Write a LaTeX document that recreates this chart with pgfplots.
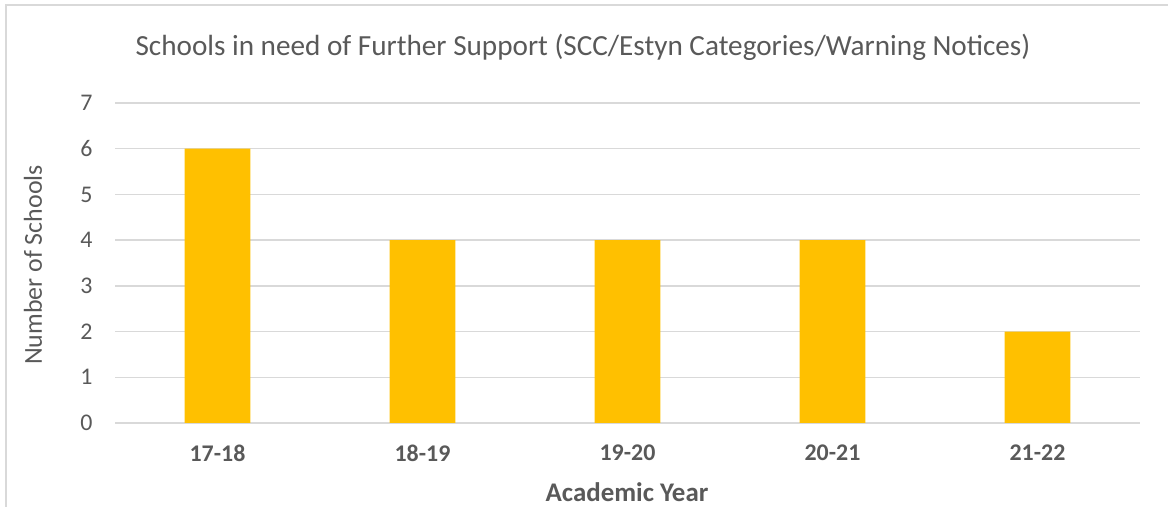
\documentclass[border=0pt]{standalone}
\usepackage{fontspec}
\setmainfont{Carlito}
\usepackage{pgfplots}
\pgfplotsset{compat=1.18}
\definecolor{barc}{HTML}{FFC000}
\definecolor{txt}{HTML}{595959}
\definecolor{grd}{HTML}{D9D9D9}
\begin{document}
\begin{tikzpicture}[x=1bp,y=1bp]
\useasboundingbox (0,0) rectangle (1168,507);
\draw[grd, line width=2bp] (6,-10) -- (6,501.5) -- (1180,501.5);
\begin{axis}[at={(115bp,84bp)}, anchor=south west, scale only axis,
  width=1025bp, height=320bp,
  xmin=-0.5, xmax=4.5, ymin=0, ymax=7, ytick={0,...,7},
  xtick={0,1,2,3,4}, xticklabels={17-18,18-19,19-20,20-21,21-22},
  axis line style={draw=none}, tick style={draw=none},
  ymajorgrids, grid style={grd, line width=1.5bp},
  /pgf/number format/assume math mode=true,
  yticklabel style={font=\fontsize{24}{24}\selectfont, text=txt, xshift=-19bp},
  xticklabel style={font=\fontsize{24}{24}\selectfont\bfseries, text=txt, yshift=-18bp},
  clip=false]
\addplot[ybar, bar width=0.32, fill=barc, draw=none] coordinates {(0,6) (1,4) (2,4) (3,4) (4,2)};
\end{axis}
\node[text=txt, font=\fontsize{29.3}{29.3}\selectfont] at (583,460) {Schools in need of Further Support (SCC/Estyn Categories/Warning Notices)};
\node[text=txt, font=\fontsize{26}{26}\selectfont, rotate=90] at (33,242) {Number of Schools};
\node[text=txt, font=\fontsize{27}{27}\selectfont\bfseries] at (627,15) {Academic Year};
\end{tikzpicture}
\end{document}
